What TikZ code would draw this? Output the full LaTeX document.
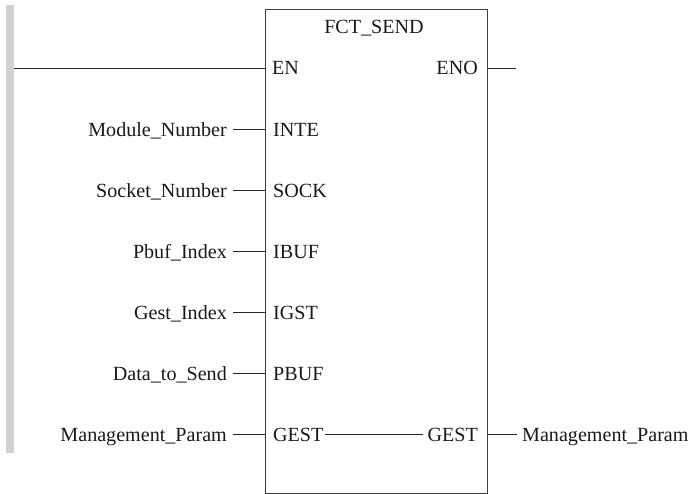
\documentclass[tikz,border=0pt]{standalone}
\usepackage{fontspec}
\setmainfont{Liberation Serif}
\begin{document}
\begin{tikzpicture}[x=1pt,y=-1pt,
  lbl/.style={font=\fontsize{20.1}{21}\selectfont, inner sep=0pt, text=black!90},
  wire/.style={line width=0.9pt, draw=black!85},
  rail/.style={fill=black!18, draw=none}]
\useasboundingbox (0,0) rectangle (691,494);
% power rail
\fill[rail] (6,5) rectangle (14,453);
% function block
\node[draw=black!75, line width=0.9pt, minimum width=222pt, minimum height=484pt,
      anchor=north west, inner sep=0pt] (blk) at (265,9) {};
\node[lbl, anchor=base] (title) at (374,34) {FCT\_SEND};
% EN / ENO
\coordinate (railpt) at (14,68);
\coordinate (enL) at (265,68);
\coordinate (enoR) at (487,68);
\coordinate (enoEnd) at (516,68);
\node[lbl, anchor=base west] (en) at (272,75) {EN};
\node[lbl, anchor=base east] (eno) at (478,75) {ENO};
\draw[wire] (railpt) -- (enL);
\draw[wire] (enoR) -- (enoEnd);
% inputs
\foreach \i/\pin/\var in {1/INTE/Module\_Number, 2/SOCK/Socket\_Number,
    3/IBUF/Pbuf\_Index, 4/IGST/Gest\_Index, 5/PBUF/Data\_to\_Send,
    6/GEST/Management\_Param}{
  \pgfmathsetmacro{\yy}{68+61.1*\i}
  \node[lbl, anchor=base east] (var\i) at (227,\yy+7) {\var};
  \node[lbl, anchor=base west] (pin\i) at (273,\yy+7) {\pin};
  \coordinate (inS\i) at (233,\yy);
  \coordinate (inE\i) at (265,\yy);
  \draw[wire] (inS\i) -- (inE\i);
}
% output GEST
\pgfmathsetmacro{\yg}{68+61.1*6}
\node[lbl, anchor=base east] (gestOut) at (478,\yg+7) {GEST};
\coordinate (gL) at (325,\yg);
\coordinate (gR) at (423,\yg);
\draw[wire] (gL) -- (gR);
\coordinate (outS) at (487,\yg);
\coordinate (outE) at (517,\yg);
\draw[wire] (outS) -- (outE);
\node[lbl, anchor=base west] (mpOut) at (522,\yg+7) {Management\_Param};
\end{tikzpicture}
\end{document}
